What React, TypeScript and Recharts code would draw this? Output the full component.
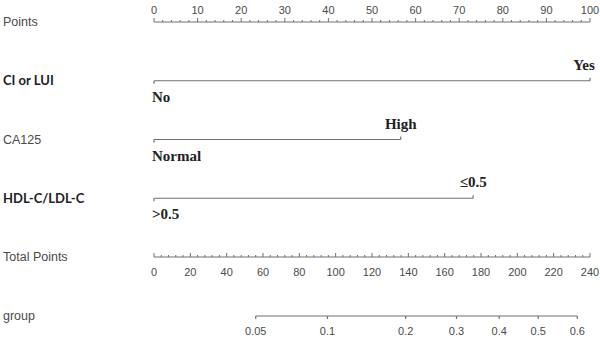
import { ComposedChart, Line, XAxis, YAxis, LabelList } from "recharts"

// predictors and their two levels (low level sits at 0 points)
const variables = ["CI or LUI", "CA125", "HDL-C/LDL-C"]
const lowLevels = ["No", "Normal", ">0.5"]
const highLevels = ["Yes", "High", "≤0.5"]
const highPoints = [100, 56.6, 73.2]

const pointTicks = Array.from({ length: 51 }, (_, i) => i * 2)
const totalTicks = Array.from({ length: 61 }, (_, i) => i * 4)
const totalRange = [0, 240]

// group probability scale, placed on the total points axis
const groupLabels = ["0.05", "0.1", "0.2", "0.3", "0.4", "0.5", "0.6"]
const groupPoints = [56, 95.5, 138.5, 166.5, 190, 211.5, 233]

const rowTitles = ["Points", ...variables, "Total Points"]
const boldTitles = ["CI or LUI", "HDL-C/LDL-C"]

const LINE = "#707070"
const TEXT = "#4a4a4a"
const SANS = "'Liberation Sans', Arial, sans-serif"
const SERIF = "'Liberation Serif', 'Times New Roman', serif"
const BOLD_SANS = "Lato, 'Open Sans', sans-serif"

function PointsTick({ x, y, payload }: any) {
  const major = payload.value % 10 === 0
  return (
    <g>
      <line x1={x} x2={x} y1={y} y2={y - (major ? 4 : 2)} stroke={LINE} />
      {major && (
        <text x={x} y={y - 8} textAnchor="middle" fontSize={11} fill={TEXT} fontFamily={SANS}>
          {payload.value}
        </text>
      )}
    </g>
  )
}

function TotalTick({ x, y, payload }: any) {
  const major = payload.value % 20 === 0
  return (
    <g>
      <line x1={x} x2={x} y1={y} y2={y - (major ? 4 : 2)} stroke={LINE} />
      {major && (
        <text x={x} y={y + 19} textAnchor="middle" fontSize={11} fill={TEXT} fontFamily={SANS}>
          {payload.value}
        </text>
      )}
    </g>
  )
}

function TitleTick({ y, payload, names }: any) {
  const name = names[payload.value]
  const bold = boldTitles.includes(name)
  return (
    <text
      x={3}
      y={y}
      dy="0.35em"
      fontSize={bold ? 13 : 12.5}
      fontWeight={bold ? 700 : 400}
      fontFamily={bold ? BOLD_SANS : SANS}
      fill={bold ? "#222" : TEXT}
    >
      {name}
    </text>
  )
}

const renderEndTick = (p: any) => (
  <line
    key={`end-${p.index}`}
    x1={p.cx}
    x2={p.cx}
    y1={p.cy}
    y2={p.cy + (p.index === 0 ? 3 : -3)}
    stroke={LINE}
    strokeWidth={1.2}
  />
)

const renderLevel = (p: any) => {
  const low = p.index === 0
  return (
    <text
      x={low ? p.x - 2 : Math.min(p.x, 584)}
      y={low ? p.y + 21 : p.y - 11}
      textAnchor={low ? "start" : "middle"}
      fontSize={15}
      fontWeight={700}
      fontFamily={SERIF}
      fill="#222"
    >
      {p.value}
    </text>
  )
}

export default function App() {
  return (
    <div style={{ position: "absolute", left: 0, top: 0, width: 600, height: 340, background: "#fff" }}>
      <ComposedChart width={600} height={292} margin={{ top: 0, right: 10, bottom: 0, left: 0 }}>
        <XAxis
          xAxisId="pts"
          dataKey="pt"
          type="number"
          orientation="top"
          domain={[0, 100]}
          ticks={pointTicks}
          interval={0}
          height={22}
          tickSize={0}
          tickMargin={0}
          tickLine={false}
          axisLine={{ stroke: LINE, strokeWidth: 1.2 }}
          tick={<PointsTick />}
        />
        <XAxis
          xAxisId="tot"
          dataKey="tot"
          type="number"
          orientation="bottom"
          domain={[0, 240]}
          ticks={totalTicks}
          interval={0}
          height={35}
          tickSize={0}
          tickMargin={0}
          tickLine={false}
          axisLine={false}
          tick={<TotalTick />}
        />
        <YAxis
          yAxisId="row"
          type="number"
          domain={[0, 4]}
          reversed
          ticks={[0, 1, 2, 3, 4]}
          interval={0}
          width={154}
          axisLine={false}
          tickLine={false}
          tick={<TitleTick names={rowTitles} />}
        />
        {variables.map((name, i) => (
          <Line
            key={name}
            xAxisId="pts"
            yAxisId="row"
            data={[
              { pt: 0, row: i + 1, lab: lowLevels[i] },
              { pt: highPoints[i], row: i + 1, lab: highLevels[i] },
            ]}
            dataKey="row"
            stroke={LINE}
            strokeWidth={1.2}
            dot={renderEndTick}
            activeDot={false}
            isAnimationActive={false}
          >
            <LabelList dataKey="lab" content={renderLevel} />
          </Line>
        ))}
        <Line
          xAxisId="tot"
          yAxisId="row"
          data={totalRange.map((tot) => ({ tot, row: 4 }))}
          dataKey="row"
          stroke={LINE}
          strokeWidth={1.2}
          dot={false}
          activeDot={false}
          isAnimationActive={false}
        />
      </ComposedChart>
      <ComposedChart width={600} height={48} margin={{ top: 0, right: 10, bottom: 0, left: 0 }}>
        <XAxis
          dataKey="tp"
          type="number"
          domain={[0, 240]}
          ticks={groupPoints}
          interval={0}
          height={24}
          tickSize={3}
          tickMargin={8}
          axisLine={false}
          tickLine={{ stroke: LINE, strokeWidth: 1.2 }}
          tickFormatter={(v: number) => groupLabels[groupPoints.indexOf(v)]}
          tick={{ fontSize: 11, fill: TEXT, fontFamily: SANS }}
        />
        <YAxis
          type="number"
          domain={[0, 1]}
          ticks={[0]}
          interval={0}
          width={154}
          axisLine={false}
          tickLine={false}
          tick={<TitleTick names={["group"]} />}
        />
        <Line
          data={groupPoints.map((tp) => ({ tp, r: 0 }))}
          dataKey="r"
          stroke={LINE}
          strokeWidth={1.2}
          dot={false}
          activeDot={false}
          isAnimationActive={false}
        />
      </ComposedChart>
    </div>
  )
}
